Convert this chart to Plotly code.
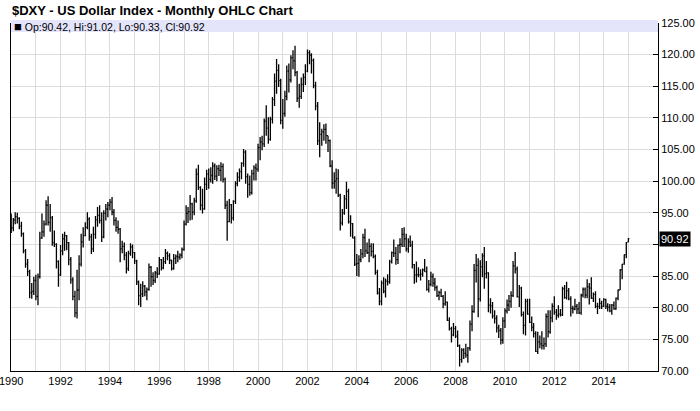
import pandas as pd
import plotly.graph_objects as go

# Monthly OHLC of $DXY, Jan 1990 .. Jan 2015 (one row per year)
opens = [
    93.2, 92.6, 93.9, 94.4, 94.1, 92.9, 91.7, 89.0, 86.9, 85.7, 82.4, 82.6,
    84.3, 81.8, 84.9, 91.0, 92.0, 93.2, 96.2, 93.5, 94.2, 90.3, 90.0, 87.3,
    85.2, 89.0, 90.9, 91.4, 90.3, 87.6, 84.4, 81.8, 79.2, 82.8, 86.9, 90.4,
    91.4, 92.7, 94.0, 91.2, 89.3, 91.6, 93.9, 94.6, 93.8, 91.2, 94.9, 95.6,
    96.2, 96.7, 95.1, 93.8, 92.7, 92.4, 89.3, 89.7, 88.3, 86.2, 88.6, 89.6,
    88.7, 87.4, 84.1, 81.9, 82.2, 83.4, 82.5, 82.9, 86.4, 84.9, 84.3, 85.5,
    85.3, 87.6, 86.3, 87.3, 88.6, 88.2, 87.5, 86.2, 87.8, 88.1, 88.0, 88.3,
    89.2, 93.2, 94.9, 95.2, 96.4, 95.1, 96.9, 101.1, 99.0, 96.2, 95.6, 99.5,
    101.1, 100.3, 100.9, 102.4, 100.8, 102.0, 101.7, 102.3, 100.3, 96.2, 93.6, 96.3,
    94.2, 96.8, 99.6, 100.6, 101.5, 102.8, 104.6, 100.7, 99.5, 98.2, 101.2, 102.1,
    101.9, 105.3, 106.2, 105.9, 109.5, 108.4, 106.6, 109.8, 112.9, 115.8, 117.5, 115.9,
    109.6, 110.7, 113.4, 117.4, 116.0, 119.5, 119.0, 117.2, 113.1, 113.4, 115.3, 116.4,
    117.4, 120.3, 119.9, 119.1, 115.1, 111.9, 106.4, 107.4, 107.8, 108.2, 107.2, 106.4,
    102.4, 99.7, 100.0, 100.4, 97.8, 93.4, 95.0, 97.2, 98.4, 93.6, 93.3, 91.0,
    86.9, 87.0, 87.6, 88.5, 91.1, 89.0, 88.7, 89.7, 88.9, 88.1, 85.6, 82.3,
    81.0, 83.9, 82.6, 84.2, 84.1, 87.3, 88.7, 88.6, 87.6, 89.9, 90.0, 91.6,
    90.9, 89.3, 90.4, 89.9, 86.8, 85.2, 85.2, 85.2, 85.3, 86.0, 85.7, 82.9,
    83.7, 84.9, 83.9, 83.2, 81.9, 82.4, 81.8, 80.6, 80.9, 78.0, 76.7, 75.7,
    76.7, 75.5, 74.0, 71.8, 73.3, 72.8, 72.5, 73.6, 77.4, 79.4, 85.9, 86.7,
    81.4, 86.5, 88.2, 85.4, 85.5, 80.4, 80.3, 78.7, 78.3, 76.8, 76.4, 74.9,
    77.9, 79.5, 80.4, 81.0, 81.9, 86.6, 86.1, 81.7, 83.1, 78.9, 77.2, 81.0,
    79.0, 77.7, 76.9, 75.9, 73.1, 74.6, 74.3, 74.0, 74.3, 78.6, 76.2, 78.4,
    80.2, 79.3, 78.8, 79.0, 78.9, 83.0, 81.6, 82.7, 81.4, 79.9, 79.8, 80.2,
    79.8, 79.2, 82.0, 82.9, 82.0, 83.3, 83.1, 81.5, 82.1, 80.2, 80.2, 80.7,
    80.2, 81.3, 80.2, 80.1, 79.5, 80.4, 79.8, 81.5, 82.8, 86.0, 86.9, 88.4,
    90.42,
]
highs = [
    94.9, 94.2, 95.1, 95.0, 94.3, 93.6, 91.9, 89.3, 87.7, 86.0, 83.9, 84.9,
    85.2, 85.4, 92.0, 94.9, 93.8, 97.0, 97.6, 96.4, 94.5, 92.2, 90.2, 87.5,
    89.9, 91.7, 92.0, 91.5, 90.4, 88.0, 84.8, 82.7, 86.0, 88.3, 91.7, 92.7,
    93.5, 95.1, 94.3, 91.7, 92.8, 94.5, 95.9, 96.2, 95.1, 95.4, 96.4, 96.7,
    97.2, 97.5, 95.6, 94.3, 93.8, 92.6, 90.6, 90.3, 88.8, 89.0, 90.2, 90.0,
    88.8, 87.6, 84.3, 83.8, 84.2, 83.6, 83.2, 87.0, 86.6, 85.6, 85.8, 86.4,
    88.0, 87.7, 88.0, 89.3, 88.9, 88.6, 87.6, 88.5, 88.4, 89.0, 88.6, 89.5,
    93.8, 96.2, 95.9, 97.8, 96.6, 97.4, 102.0, 102.6, 99.2, 98.8, 100.6, 101.8,
    102.0, 102.2, 103.0, 102.8, 102.5, 102.6, 103.0, 102.8, 100.6, 96.9, 97.2, 96.4,
    97.0, 100.0, 101.4, 102.0, 103.0, 105.1, 104.9, 101.2, 100.9, 101.8, 102.5, 102.8,
    105.9, 107.0, 107.2, 109.9, 112.0, 110.1, 110.2, 113.3, 117.0, 119.3, 118.5, 116.2,
    113.0, 114.3, 118.3, 118.6, 119.9, 120.7, 121.4, 117.4, 115.4, 116.4, 117.0, 118.5,
    120.8, 120.7, 120.2, 119.4, 115.7, 112.5, 109.3, 108.3, 109.0, 109.1, 107.2, 106.6,
    103.3, 101.4, 102.0, 101.9, 98.0, 95.6, 97.8, 99.9, 98.8, 94.6, 93.4, 91.3,
    88.5, 88.3, 89.3, 91.7, 92.5, 90.3, 90.9, 90.2, 90.2, 88.4, 86.0, 83.1,
    84.3, 84.8, 84.6, 85.3, 87.6, 88.9, 90.8, 89.6, 90.0, 91.0, 92.6, 92.7,
    91.7, 91.0, 91.4, 90.6, 86.9, 87.3, 86.4, 86.1, 86.2, 87.7, 86.5, 84.4,
    85.7, 85.4, 84.7, 83.5, 82.7, 83.0, 82.0, 82.6, 81.0, 78.5, 77.0, 77.6,
    77.1, 76.4, 74.2, 73.6, 73.6, 74.3, 73.8, 78.0, 80.4, 86.9, 88.5, 87.8,
    87.5, 88.6, 89.6, 87.4, 85.6, 81.5, 80.9, 79.6, 78.8, 77.3, 76.8, 78.5,
    79.9, 81.3, 82.0, 82.6, 87.4, 88.8, 86.5, 83.6, 83.3, 79.4, 81.4, 81.4,
    81.4, 78.6, 77.6, 76.3, 76.2, 75.6, 76.3, 75.3, 79.1, 79.6, 79.6, 80.7,
    81.8, 79.8, 80.4, 79.8, 83.3, 83.6, 84.1, 83.1, 81.8, 80.3, 81.4, 80.6,
    80.9, 82.2, 83.2, 83.2, 84.5, 83.9, 84.8, 82.4, 82.6, 80.8, 81.5, 81.1,
    81.5, 81.4, 80.7, 80.6, 80.6, 81.0, 81.6, 82.9, 86.1, 86.9, 88.4, 90.4,
    91.02,
]
lows = [
    91.8, 92.1, 93.2, 93.3, 92.4, 91.2, 88.6, 86.3, 85.0, 81.5, 81.4, 82.0,
    81.2, 80.4, 84.6, 90.9, 91.2, 93.0, 93.0, 92.0, 89.8, 89.6, 86.2, 83.3,
    85.0, 88.3, 89.0, 89.1, 86.7, 83.8, 81.2, 78.5, 78.3, 81.2, 86.5, 89.5,
    91.3, 92.4, 90.6, 88.5, 88.8, 90.9, 92.8, 93.3, 90.4, 91.0, 93.8, 94.3,
    95.4, 94.6, 93.0, 92.0, 91.7, 87.2, 88.6, 87.5, 85.4, 85.8, 88.2, 87.8,
    86.9, 83.6, 80.4, 80.1, 81.7, 81.8, 81.2, 82.7, 83.3, 83.6, 83.9, 84.7,
    85.2, 85.9, 86.1, 86.9, 87.5, 86.9, 85.9, 86.0, 86.9, 87.2, 87.6, 87.8,
    89.0, 93.0, 93.4, 93.8, 93.9, 94.6, 96.6, 98.6, 95.4, 94.9, 95.5, 98.6,
    98.8, 99.8, 99.6, 100.2, 100.0, 100.8, 100.0, 99.8, 95.6, 90.6, 93.5, 93.3,
    93.8, 96.4, 99.2, 99.9, 100.3, 102.3, 99.6, 97.4, 97.7, 97.9, 100.1, 100.1,
    101.5, 103.3, 104.9, 105.4, 107.2, 105.9, 106.4, 109.1, 111.9, 113.8, 114.9, 109.0,
    108.3, 110.2, 112.8, 114.0, 115.6, 117.7, 116.6, 112.5, 111.6, 113.0, 114.1, 115.2,
    117.2, 118.5, 117.0, 114.7, 111.2, 105.7, 103.8, 105.6, 106.4, 105.9, 104.6, 102.2,
    98.8, 98.8, 98.0, 97.5, 92.2, 93.0, 94.7, 95.6, 93.3, 91.2, 91.0, 86.6,
    85.0, 84.9, 87.2, 87.8, 88.0, 88.5, 87.2, 88.1, 87.8, 85.2, 82.1, 80.4,
    80.4, 82.3, 81.6, 83.5, 83.8, 87.0, 88.0, 86.8, 86.9, 88.6, 89.6, 89.6,
    88.9, 88.7, 89.6, 86.2, 83.8, 84.0, 84.8, 84.3, 84.9, 85.7, 82.7, 82.4,
    83.4, 83.3, 82.7, 81.7, 81.2, 81.7, 79.9, 80.3, 77.9, 76.4, 74.5, 75.5,
    75.2, 73.8, 70.7, 71.3, 71.9, 72.1, 71.3, 73.2, 76.3, 79.2, 84.0, 78.5,
    81.0, 84.8, 83.0, 84.6, 79.3, 79.1, 78.3, 77.5, 76.1, 75.2, 74.2, 74.3,
    76.8, 79.1, 79.5, 80.0, 81.7, 85.4, 81.6, 80.1, 78.6, 75.8, 75.6, 78.9,
    77.6, 76.3, 75.3, 73.0, 72.7, 73.6, 73.4, 73.4, 73.8, 75.3, 75.9, 77.7,
    78.9, 78.1, 78.4, 78.6, 78.7, 81.4, 81.3, 81.2, 78.6, 79.1, 79.6, 79.0,
    79.0, 78.9, 81.6, 81.5, 81.5, 80.5, 81.4, 80.9, 79.9, 79.0, 79.8, 79.8,
    80.1, 79.8, 79.4, 79.3, 78.9, 79.7, 79.7, 81.2, 82.8, 84.5, 86.8, 87.8,
    90.33,
]
closes = [
    92.6, 93.9, 94.4, 94.1, 92.9, 91.7, 89.0, 86.9, 85.7, 82.4, 82.6, 84.3,
    81.8, 84.9, 91.0, 92.0, 93.2, 96.2, 93.5, 94.2, 90.3, 90.0, 87.3, 85.2,
    89.0, 90.9, 91.4, 90.3, 87.6, 84.4, 81.8, 79.2, 82.8, 86.9, 90.4, 91.4,
    92.7, 94.0, 91.2, 89.3, 91.6, 93.9, 94.6, 93.8, 91.2, 94.9, 95.6, 96.2,
    96.7, 95.1, 93.8, 92.7, 92.4, 89.3, 89.7, 88.3, 86.2, 88.6, 89.6, 88.7,
    87.4, 84.1, 81.9, 82.2, 83.4, 82.5, 82.9, 86.4, 84.9, 84.3, 85.5, 85.3,
    87.6, 86.3, 87.3, 88.6, 88.2, 87.5, 86.2, 87.8, 88.1, 88.0, 88.3, 89.2,
    93.2, 94.9, 95.2, 96.4, 95.1, 96.9, 101.1, 99.0, 96.2, 95.6, 99.5, 101.1,
    100.3, 100.9, 102.4, 100.8, 102.0, 101.7, 102.3, 100.3, 96.2, 93.6, 96.3, 94.2,
    96.8, 99.6, 100.6, 101.5, 102.8, 104.6, 100.7, 99.5, 98.2, 101.2, 102.1, 101.9,
    105.3, 106.2, 105.9, 109.5, 108.4, 106.6, 109.8, 112.9, 115.8, 117.5, 115.9, 109.6,
    110.7, 113.4, 117.4, 116.0, 119.5, 119.0, 117.2, 113.1, 113.4, 115.3, 116.4, 117.4,
    120.3, 119.9, 119.1, 115.1, 111.9, 106.4, 107.4, 107.8, 108.2, 107.2, 106.4, 102.4,
    99.7, 100.0, 100.4, 97.8, 93.4, 95.0, 97.2, 98.4, 93.6, 93.3, 91.0, 86.9,
    87.0, 87.6, 88.5, 91.1, 89.0, 88.7, 89.7, 88.9, 88.1, 85.6, 82.3, 81.0,
    83.9, 82.6, 84.2, 84.1, 87.3, 88.7, 88.6, 87.6, 89.9, 90.0, 91.6, 90.9,
    89.3, 90.4, 89.9, 86.8, 85.2, 85.2, 85.2, 85.3, 86.0, 85.7, 82.9, 83.7,
    84.9, 83.9, 83.2, 81.9, 82.4, 81.8, 80.6, 80.9, 78.0, 76.7, 75.7, 76.7,
    75.5, 74.0, 71.8, 73.3, 72.8, 72.5, 73.6, 77.4, 79.4, 85.9, 86.7, 81.4,
    86.5, 88.2, 85.4, 85.5, 80.4, 80.3, 78.7, 78.3, 76.8, 76.4, 74.9, 77.9,
    79.5, 80.4, 81.0, 81.9, 86.6, 86.1, 81.7, 83.1, 78.9, 77.2, 81.0, 79.0,
    77.7, 76.9, 75.9, 73.1, 74.6, 74.3, 74.0, 74.3, 78.6, 76.2, 78.4, 80.2,
    79.3, 78.8, 79.0, 78.9, 83.0, 81.6, 82.7, 81.4, 79.9, 79.8, 80.2, 79.8,
    79.2, 82.0, 82.9, 82.0, 83.3, 83.1, 81.5, 82.1, 80.2, 80.2, 80.7, 80.2,
    81.3, 80.2, 80.1, 79.5, 80.4, 79.8, 81.5, 82.8, 86.0, 86.9, 88.4, 90.3,
    90.92,
]
months = pd.date_range("1990-01-01", periods=len(closes), freq="MS")

title_text = "$DXY - US Dollar Index - Monthly OHLC Chart"
y_ticks = [70, 75, 80, 85, 90, 95, 100, 105, 110, 115, 120, 125]
x_years = list(range(1990, 2016))            # yearly gridlines
x_labels = [str(y) if y % 2 == 0 else "" for y in x_years]

FONT = "Liberation Sans, Arial, sans-serif"
GRID = "#DCDCDC"

fig = go.Figure(go.Ohlc(
    x=months, open=opens, high=highs, low=lows, close=closes,
    increasing=dict(line=dict(color="black", width=1.3)),
    decreasing=dict(line=dict(color="black", width=1.3)),
    tickwidth=0.5, hoverinfo="skip", showlegend=False,
))

PT, PB = 23, 40          # plot top / bottom margins (px)
PH = 411 - PT - PB

def py(px):              # pixel row -> paper y
    return (411 - PB - px) / PH

last_close = closes[-1]
# hide the tick label hidden behind the last-price box, keep its gridline
y_text = ["" if abs(v - last_close) < 2.5 else "%.2f" % v for v in y_ticks]

fig.update_layout(
    width=700, height=411,
    margin=dict(l=11, r=42, t=PT, b=PB, pad=0, autoexpand=False),
    paper_bgcolor="white", plot_bgcolor="white",
    font=dict(family=FONT, size=11, color="black"),
    showlegend=False,
    xaxis=dict(
        type="date", range=["1989-12-29", "2016-03-14"],
        tickvals=["%d-01-01" % y for y in x_years], ticktext=x_labels,
        ticklabeloverflow="allow", automargin=False,
        showgrid=True, gridcolor=GRID, gridwidth=1,
        showline=True, linecolor="black", linewidth=1,
        ticks="", zeroline=False, rangeslider=dict(visible=False),
        tickfont=dict(size=11, color="black"), fixedrange=True,
    ),
    yaxis=dict(
        side="right", range=[70, 125], tickvals=y_ticks, ticktext=y_text,
        automargin=False,
        showgrid=True, gridcolor=GRID, gridwidth=1,
        showline=True, linecolor="black", linewidth=1, mirror=True,
        ticks="inside", ticklen=5, tickcolor="black",
        zeroline=False, tickfont=dict(size=11, color="black"), fixedrange=True,
    ),
    shapes=[dict(type="rect", xref="paper", yref="paper",
                 x0=0, x1=1, y0=py(32), y1=py(20),
                 fillcolor="#E4E4FA", line=dict(width=0), layer="above")],
    annotations=[
        dict(text="<b>" + title_text + "</b>", xref="paper", yref="paper",
             x=0, y=py(10), xanchor="left", yanchor="middle", xshift=-1,
             showarrow=False, font=dict(family=FONT, size=13, color="black")),
        dict(text="<span style='font-size:13px'>■</span> Op:%.2f, Hi:%.2f, Lo:%.2f, Cl:%.2f"
                  % (opens[-1], highs[-1], lows[-1], closes[-1]),
             xref="paper", yref="paper", x=0, y=py(26.5),
             xanchor="left", yanchor="middle", xshift=1,
             showarrow=False, font=dict(family=FONT, size=10.5, color="black")),
        dict(text="%.2f" % last_close, xref="paper", yref="y",
             x=1, y=last_close, xanchor="left", yanchor="middle", xshift=1,
             showarrow=False, bgcolor="black", borderpad=1,
             font=dict(family=FONT, size=11, color="white")),
    ],
)

fig.write_html("out.html",
               config={"displayModeBar": False},
               post_script="document.body.style.margin='0';"
                           "document.body.style.overflow='hidden';")
